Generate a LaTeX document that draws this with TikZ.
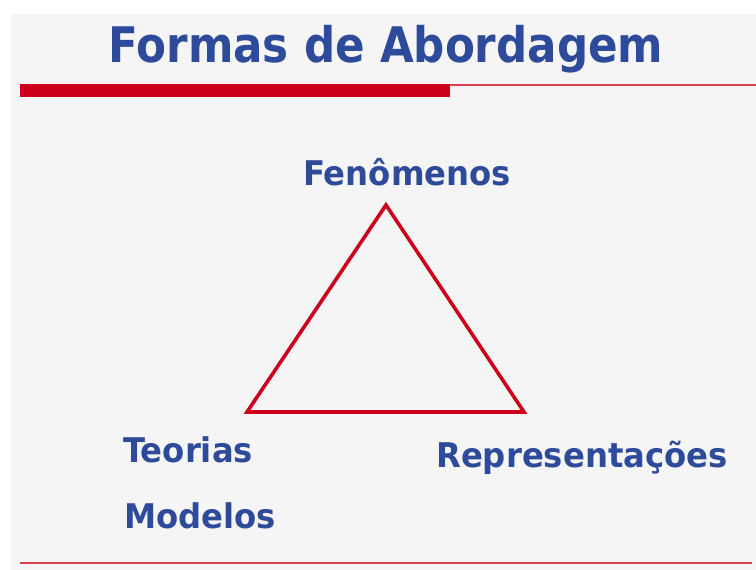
\documentclass[tikz,border=0pt]{standalone}
\usepackage{fontspec}
\newfontfamily\titlefont[FakeStretch=0.89]{DejaVu Sans}
\newfontfamily\labelfont[FakeStretch=0.95]{DejaVu Sans}
\usepackage{tikz}
\usetikzlibrary{positioning}
\definecolor{slideblue}{RGB}{46,74,154}
\definecolor{slidered}{RGB}{204,0,26}
\definecolor{rulered}{RGB}{218,62,80}
\definecolor{slidegray}{RGB}{245,245,245}

\begin{document}
\begin{tikzpicture}[
    x=1pt, y=-1pt,
    heading/.style={anchor=base, inner sep=0pt, text=slideblue, font=\titlefont\bfseries\fontsize{49}{55}\selectfont},
    corner/.style={anchor=base west, inner sep=0pt, text=slideblue, font=\labelfont\bfseries\fontsize{34}{40}\selectfont},
    edge/.style={draw=slidered, line width=3.6pt, line join=miter},
    thinrule/.style={draw=rulered, line width=1.8pt}
]

\useasboundingbox (0,0) rectangle (756,570);
\fill[slidegray] (11,14) rectangle (756,570);

\node[heading] (title) at (386,63) {Formas de Abordagem};

\fill[slidered] (20,84) rectangle (450,97);
\draw[thinrule] (450,85) -- (756,85);
\draw[thinrule] (20,563) -- (752,563);

\node[corner] (fen) at (303,185) {Fenômenos};
\node[corner] (teo) at (123,462) {Teorias};
\node[corner] (mod) at (124,528) {Modelos};
\node[corner] (rep) at (436,467) {Representações};

\coordinate (top) at (386,205);
\coordinate (left) at (247,412);
\coordinate (right) at (524,412);
\draw[edge] (top) -- (right) -- (left) -- cycle;

\end{tikzpicture}
\end{document}
